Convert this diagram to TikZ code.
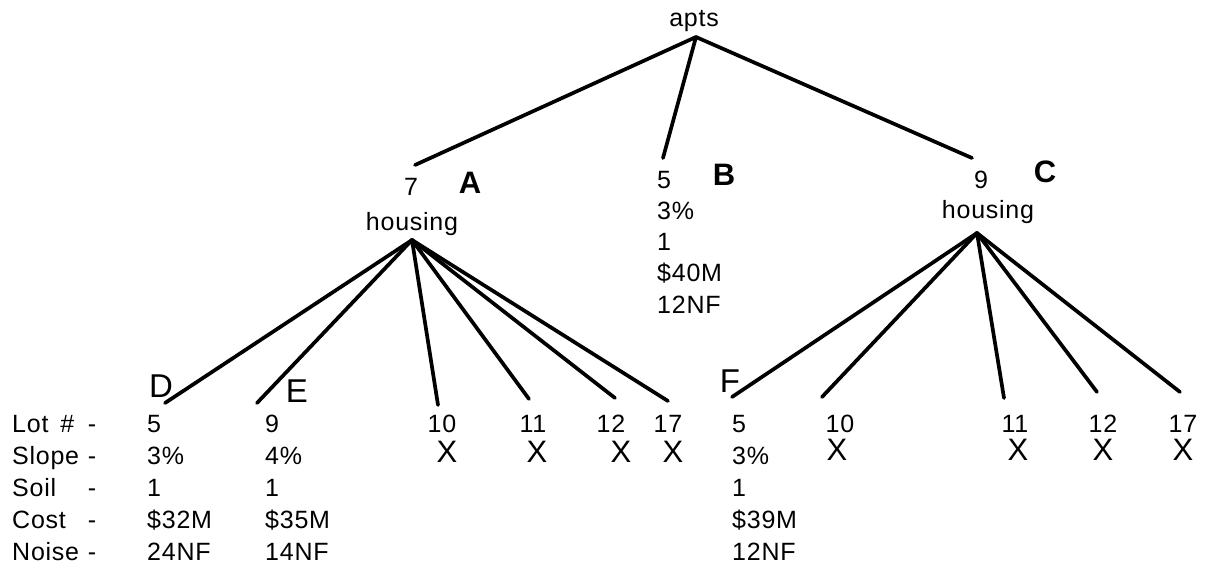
\documentclass[tikz,border=0pt]{standalone}
\usepackage{fontspec}
\setmainfont{Liberation Sans}[LetterSpace=3]
\begin{document}
\begin{tikzpicture}[x=1pt,y=-1pt,
  txt/.style={inner sep=0pt, font=\fontsize{25}{29}\selectfont},
  tag/.style={inner sep=0pt, font=\fontsize{31}{36}\selectfont\bfseries},
  tagr/.style={inner sep=0pt, font=\fontsize{33}{38}\selectfont},
  cross/.style={inner sep=0pt, font=\fontsize{31}{36}\selectfont},
  branch/.style={line width=3.7pt, line cap=round, line join=round}]
\fill[white] (0,0) rectangle (1206,566);
\useasboundingbox (0,0) rectangle (1206,566);

% ---- root ----
\node[txt, anchor=base] (apts) at (694,26) {apts};
\coordinate (root) at (696,37);
\coordinate (endA) at (415,165);
\coordinate (endB) at (663,158);
\coordinate (endC) at (972,158);
\draw[branch] (endA) -- (root) -- (endB);
\draw[branch] (root) -- (endC);

% ---- A ----
\node[txt, anchor=base] (numA) at (411,195) {7};
\node[tag, anchor=base] (tagA) at (470,193) {A};
\node[txt, anchor=base] (houseA) at (412,230) {housing};
\coordinate (apexA) at (412,240);

% ---- B ----
\node[tag, anchor=base] (tagB) at (724,185) {B};
\foreach \v [count=\i] in {5,3\%,1,\$40M,12NF}
  \node[txt, anchor=base west] (B\i) at (657,{188+(\i-1)*31.3}) {\v};

% ---- C ----
\node[txt, anchor=base] (numC) at (981,188) {9};
\node[tag, anchor=base] (tagC) at (1045,182) {C};
\node[txt, anchor=base] (houseC) at (988,218) {housing};
\coordinate (apexC) at (977,233);

% ---- row labels ----
\foreach \v [count=\i] in {{Lot\hspace{12pt}\#},Slope,Soil,Cost,Noise}{
  \node[txt, anchor=base west] (lab\i) at (12,{432+(\i-1)*32}) {\v};
  \node[txt, anchor=base] (dash\i) at (92,{432+(\i-1)*32}) {-};
}

% ---- D and E under A ----
\node[tagr, anchor=base] (tagD) at (161,397) {D};
\node[tagr, anchor=base] (tagE) at (297,402) {E};
\foreach \v [count=\i] in {5,3\%,1,\$32M,24NF}
  \node[txt, anchor=base west] (D\i) at (147,{432+(\i-1)*32}) {\v};
\foreach \v [count=\i] in {9,4\%,1,\$35M,14NF}
  \node[txt, anchor=base west] (E\i) at (265,{432+(\i-1)*32}) {\v};

\coordinate (aD) at (165,403);
\coordinate (aE) at (257,403);
\coordinate (a10) at (438,405);
\coordinate (a11) at (529,399);
\coordinate (a12) at (615,398);
\coordinate (a17) at (668,401);
\foreach \e in {aD,aE,a10,a11,a12,a17}
  \draw[branch] (apexA) -- (\e);

% rejected lots under A
\node[txt, anchor=base] (lotA10) at (442,432) {10};
\node[txt, anchor=base] (lotA11) at (533,432) {11};
\node[txt, anchor=base] (lotA12) at (611,432) {12};
\node[txt, anchor=base] (lotA17) at (668,432) {17};
\node[cross, anchor=base] (xA10) at (447,462) {X};
\node[cross, anchor=base] (xA11) at (537,462) {X};
\node[cross, anchor=base] (xA12) at (621,462) {X};
\node[cross, anchor=base] (xA17) at (673,462) {X};

% ---- F under C ----
\node[tagr, anchor=base] (tagF) at (730,392) {F};
\foreach \v [count=\i] in {5,3\%,1,\$39M,12NF}
  \node[txt, anchor=base west] (F\i) at (732,{432+(\i-1)*32}) {\v};

\coordinate (cF) at (732,397);
\coordinate (c10) at (822,397);
\coordinate (c11) at (1004,398);
\coordinate (c12) at (1097,392);
\coordinate (c17) at (1180,392);
\foreach \e in {cF,c10,c11,c12,c17}
  \draw[branch] (apexC) -- (\e);

% rejected lots under C
\node[txt, anchor=base] (lotC10) at (840,432) {10};
\node[txt, anchor=base] (lotC11) at (1015,432) {11};
\node[txt, anchor=base] (lotC12) at (1103,432) {12};
\node[txt, anchor=base] (lotC17) at (1183,432) {17};
\node[cross, anchor=base] (xC10) at (837,460) {X};
\node[cross, anchor=base] (xC11) at (1018,460) {X};
\node[cross, anchor=base] (xC12) at (1103,460) {X};
\node[cross, anchor=base] (xC17) at (1183,460) {X};
\end{tikzpicture}
\end{document}
